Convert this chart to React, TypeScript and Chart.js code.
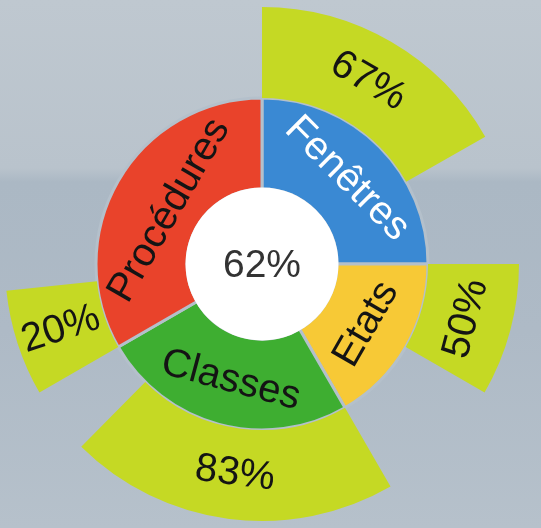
import React, { useEffect, useRef } from "react";
import { Chart, registerables } from "chart.js";

Chart.register(...registerables);

const categories = ["Fenêtres", "Etats", "Classes", "Procédures"];
const categoryWeights = [3, 2, 3, 4];
const completion = [67, 50, 83, 20];
const overall = 62;
const categoryColors = ["#3a89d3", "#f7c936", "#3eae31", "#e9432b"];
const labelColors = ["#ffffff", "#141414", "#141414", "#141414"];
const progressColor = "#c5d924";

const FONT = "'Liberation Sans', Arial, sans-serif";

function drawArcLabel(ctx: CanvasRenderingContext2D, arc: any, text: string, color: string, size: number, allowRadial: boolean) {
  ctx.save();
  ctx.font = `${size}px ${FONT}`;
  ctx.fillStyle = color;
  ctx.textAlign = "center";
  ctx.textBaseline = "middle";
  const mid = (arc.startAngle + arc.endAngle) / 2;
  const w = ctx.measureText(text).width;
  const midR = (arc.innerRadius + arc.outerRadius) / 2;
  const span = arc.endAngle - arc.startAngle;
  const radial = allowRadial && span * midR < w * 1.3;
  let r = midR;
  let rot: number;
  if (radial) {
    rot = mid;
  } else {
    const lim = arc.outerRadius - 18;
    if (lim > w / 2) r = Math.min(midR, Math.sqrt(lim * lim - (w * w) / 4));
    rot = mid + Math.PI / 2;
  }
  while (rot > Math.PI) rot -= 2 * Math.PI;
  while (rot <= -Math.PI) rot += 2 * Math.PI;
  if (rot > Math.PI / 2) rot -= Math.PI;
  else if (rot < -Math.PI / 2) rot += Math.PI;
  ctx.translate(arc.x + r * Math.cos(mid), arc.y + r * Math.sin(mid));
  ctx.rotate(rot);
  ctx.fillText(text, 0, 0);
  ctx.restore();
}

export default function App() {
  const ref = useRef<HTMLCanvasElement>(null);

  useEffect(() => {
    if (!ref.current) return;
    const outerData: number[] = [];
    const outerColors: string[] = [];
    categoryWeights.forEach((w, i) => {
      outerData.push((w * completion[i]) / 100, (w * (100 - completion[i])) / 100);
      outerColors.push(progressColor, "rgba(0,0,0,0)");
    });

    const labelPlugin = {
      id: "sunburstLabels",
      afterDatasetsDraw(chart: any) {
        const ctx: CanvasRenderingContext2D = chart.ctx;
        const inner = chart.getDatasetMeta(1).data;
        const outer = chart.getDatasetMeta(0).data;
        const c = inner[0];
        ctx.save();
        ctx.beginPath();
        ctx.arc(c.x, c.y, c.innerRadius + 1.5, 0, Math.PI * 2);
        ctx.fillStyle = "#ffffff";
        ctx.fill();
        ctx.font = `39px ${FONT}`;
        ctx.fillStyle = "#333333";
        ctx.textAlign = "center";
        ctx.textBaseline = "middle";
        ctx.fillText(overall + "%", c.x, c.y + 2);
        ctx.restore();

        categories.forEach((name, i) => {
          drawArcLabel(ctx, inner[i], name, labelColors[i], 40, false);
          drawArcLabel(ctx, outer[i * 2], completion[i] + "%", "#141414", 40, true);
        });
      },
    };

    const chart = new Chart(ref.current, {
      type: "doughnut",
      data: {
        labels: categories,
        datasets: [
          { data: outerData, backgroundColor: outerColors, borderWidth: 0 },
          { data: categoryWeights, backgroundColor: categoryColors, borderColor: "#b4c0cb", borderWidth: 3 },
        ],
      },
      options: {
        animation: false,
        responsive: true,
        maintainAspectRatio: false,
        cutout: 75,
        layout: { padding: { left: 5, right: 22, top: 7, bottom: 7 } },
        plugins: { legend: { display: false }, tooltip: { enabled: false } },
        events: [],
      } as any,
      plugins: [labelPlugin],
    });
    return () => chart.destroy();
  }, []);

  return (
    <div
      style={{
        position: "absolute",
        left: 0,
        top: 0,
        width: 541,
        height: 528,
        background:
          "linear-gradient(to bottom, #bfc8d0 0px, #b9c3cc 168px, #abb8c4 182px, #aebac6 330px, #b6c1cb 528px)",
      }}
    >
      <canvas ref={ref} />
    </div>
  );
}
